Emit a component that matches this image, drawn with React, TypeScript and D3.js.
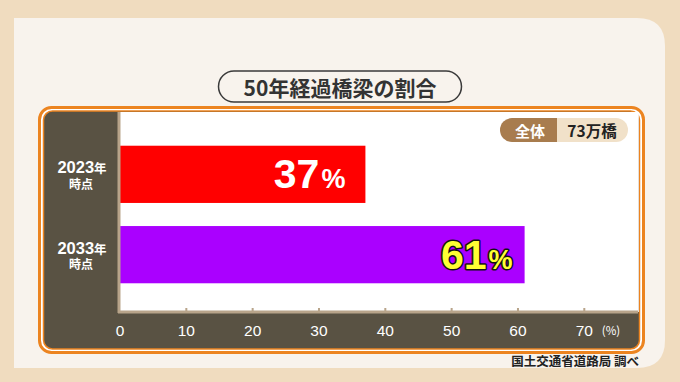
import React from "react";
import * as d3 from "d3";

const categories = ["2023年", "2033年"];
const values = [37, 61];
const valueLabels = ["37", "61"];
const xTicks = [0, 10, 20, 30, 40, 50, 60, 70];
const title = "50年経過橋梁の割合";
const badgeLeft = "全体";
const badgeRight = "73万橋";
const source = "国土交通省道路局 調べ";

const JP = "'Noto Sans CJK JP', 'Noto Sans', sans-serif";
const NUM = "'Liberation Sans', Arial, sans-serif";

export default function App() {
  const W = 680, H = 382;
  const x = d3.scaleLinear().domain([0, 70]).range([120, 584.3]);
  const y = d3.scaleBand<string>().domain(categories).range([116, 313]).paddingInner(0.2875).paddingOuter(0.37);
  const plotL = 120, plotT = 112, plotR = 637, plotB = 312;
  const panelPath = (() => {
    const l = 14, t = 18, r = 665, b = 368, rr = 28;
    return `M${l},${t} H${r - rr} Q${r},${t} ${r},${t + rr} V${b - rr} Q${r},${b} ${r - rr},${b} H${l} Z`;
  })();
  const colors = ["#ff0000", "#aa00ff"];
  return (
    <svg width={W} height={H} style={{ position: "absolute", left: 0, top: 0, display: "block" }}>
      <rect x={0} y={0} width={W} height={H} fill="#f0dcbf" />
      <path d={panelPath} fill="#f8f3ed" />
      {/* Title pill */}
      <rect x={218.5} y={71} width={243} height={31} rx={15.5} fill="#f8f3ed" stroke="#3a3a3a" strokeWidth={1.5} />
      <text x={340} y={87} textAnchor="middle" dominantBaseline="central" fontFamily={JP} fontWeight={700} fontSize={21} fill="#333">{title}</text>
      {/* Frame */}
      <rect x={39.5} y={107.5} width={604} height={245} rx={12} fill="#ffffff" stroke="#ec8420" strokeWidth={3} />
      <rect x={43.5} y={111} width={596} height={238} rx={9} fill="#595243" stroke="#ec8420" strokeWidth={1.5} />
      <rect x={plotL} y={plotT} width={plotR - plotL + 1.8} height={plotB - plotT} fill="#ffffff" />
      {/* Bars */}
      {categories.map((c, i) => (
        <rect key={c} x={x(0)} y={y(c)!} width={x(values[i]) - x(0)} height={y.bandwidth()} fill={colors[i]} />
      ))}
      {/* Axis lines */}
      <line x1={plotL - 1} x2={plotL - 1} y1={plotT} y2={plotB + 1} stroke="#b8a48a" strokeWidth={3} />
      <line x1={plotL - 2} x2={plotR + 1} y1={plotB} y2={plotB} stroke="#b8a48a" strokeWidth={3} />
      {xTicks.slice(1).map((t) => (
        <rect key={t} x={x(t) - 1} y={plotB - 4} width={2} height={4} fill="#b8a48a" />
      ))}
      {/* Tick labels */}
      {xTicks.map((t) => (
        <text key={t} x={x(t)} y={330} textAnchor="middle" dominantBaseline="central" fontFamily={NUM} fontSize={15.5} fill="#ffffff">{t}</text>
      ))}
      <text x={611} y={330} textAnchor="middle" dominantBaseline="central" fontFamily={JP} fontSize={11.5} fill="#ffffff">(%)</text>
      {/* Category labels */}
      {categories.map((c) => {
        const cy = y(c)! + y.bandwidth() / 2;
        return (
          <g key={c}>
            <text x={82} y={cy - 7} textAnchor="middle" dominantBaseline="central" fontFamily={JP} fontWeight={700} fill="#ffffff">
              <tspan fontFamily={NUM} fontSize={16.5}>{c.slice(0, 4)}</tspan>
              <tspan fontSize={12.5}>{c.slice(4)}</tspan>
            </text>
            <text x={81} y={cy + 9} textAnchor="middle" dominantBaseline="central" fontFamily={JP} fontWeight={700} fontSize={12} fill="#ffffff">時点</text>
          </g>
        );
      })}
      {/* Value labels */}
      {categories.map((c, i) => {
        const cy = y(c)! + y.bandwidth() / 2;
        const end = x(values[i]) - (i === 0 ? 20 : 12);
        const style = i === 0
          ? { fill: "#ffffff" }
          : { fill: "#ffff33", stroke: "#111", strokeWidth: 3, paintOrder: "stroke" as const, strokeLinejoin: "round" as const };
        return (
          <text key={c} x={end} y={cy + 14} textAnchor="end" fontFamily={NUM} fontWeight={700} {...style}>
            <tspan fontSize={41}>{valueLabels[i]}</tspan>
            <tspan fontSize={27} dx={2}>%</tspan>
          </text>
        );
      })}
      {/* Badge */}
      <clipPath id="badgeClip">
        <rect x={500} y={118} width={128} height={24} rx={12} />
      </clipPath>
      <g clipPath="url(#badgeClip)">
        <rect x={500} y={118} width={57} height={24} fill="#a87c4e" />
        <rect x={557} y={118} width={71} height={24} fill="#f1e1c9" />
      </g>
      <text x={530} y={130} textAnchor="middle" dominantBaseline="central" fontFamily={JP} fontWeight={700} fontSize={15} fill="#ffffff">{badgeLeft}</text>
      <text x={592} y={130} textAnchor="middle" dominantBaseline="central" fontFamily={JP} fontWeight={700} fontSize={15.5} fill="#222">{badgeRight}</text>
      {/* Source */}
      <text x={639} y={360} textAnchor="end" dominantBaseline="central" fontFamily={JP} fontWeight={700} fontSize={12.5} fill="#222">{source}</text>
    </svg>
  );
}
